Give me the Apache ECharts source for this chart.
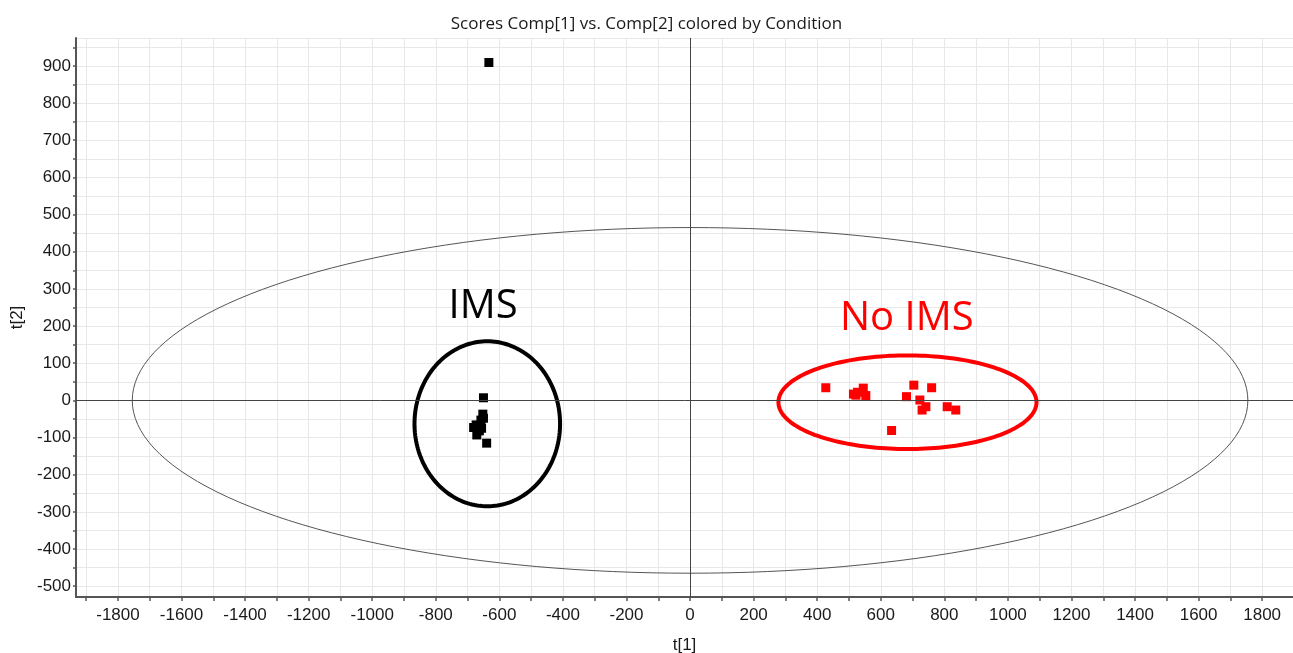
<!DOCTYPE html>
<html>
<head>
<meta charset="utf-8">
<script src="https://cdn.jsdelivr.net/npm/echarts@6/dist/echarts.min.js"></script>
<style>
html,body{margin:0;padding:0;background:#fff;}
#chart{width:1293px;height:653px;}
</style>
</head>
<body>
<div id="chart"></div>
<script>
// ---- data ----
var imsT1 = [-633, -650, -652, -650, -658, -656, -663, -673, -681, -671, -640];
var imsT2 = [909, 7, -37, -48, -53, -75, -82, -66, -73, -93, -115];

var noImsT1 = [427, 514, 522, 527, 545, 553, 634, 681, 704, 723, 730, 742, 760, 809, 836];
var noImsT2 = [34, 17, 14, 22, 33, 13, -81, 10, 41, 1, -26, -17, 34, -17, -26];

// ellipses: [centre t1, centre t2, half-width, half-height]
var hotellingEllipse = [0, 0, 1755, 465];
var imsEllipse = [-638, -63, 229, 222];
var noImsEllipse = [684, -5, 406, 126];

// annotation texts: [t1, t2]
var imsLabelPos = [-651, 251];
var noImsLabelPos = [682, 221];

var xTickLabels = [-1800, -1600, -1400, -1200, -1000, -800, -600, -400, -200, 0, 200, 400, 600, 800, 1000, 1200, 1400, 1600, 1800];
var yTickLabels = [-500, -400, -300, -200, -100, 0, 100, 200, 300, 400, 500, 600, 700, 800, 900];

function zip(a, b) { return a.map(function (v, i) { return [v, b[i]]; }); }

function ellipseSeries(params, color, width) {
  return {
    type: 'custom',
    silent: true,
    clip: true,
    z: 3,
    data: [params],
    renderItem: function (p, api) {
      var cx = api.value(0), cy = api.value(1), rx = api.value(2), ry = api.value(3);
      var pts = [];
      var n = 180;
      for (var i = 0; i < n; i++) {
        var t = 2 * Math.PI * i / n;
        pts.push(api.coord([cx + rx * Math.cos(t), cy + ry * Math.sin(t)]));
      }
      return {
        type: 'polygon',
        shape: { points: pts },
        style: { fill: 'none', stroke: color, lineWidth: width }
      };
    }
  };
}

function textSeries(pos, text, color) {
  return {
    type: 'custom',
    silent: true,
    z: 5,
    data: [pos],
    renderItem: function (p, api) {
      var c = api.coord([api.value(0), api.value(1)]);
      return {
        type: 'text',
        x: c[0], y: c[1],
        style: {
          text: text, fill: color, fontSize: 40,
          fontFamily: 'Open Sans', align: 'center', verticalAlign: 'middle'
        }
      };
    }
  };
}

var axisFont = 'Liberation Sans';
var chart = echarts.init(document.getElementById('chart'), null, { renderer: 'canvas' });
chart.setOption({
  animation: false,
  backgroundColor: '#fff',
  title: {
    text: 'Scores Comp[1] vs. Comp[2] colored by Condition',
    left: 'center', top: 11,
    textStyle: { fontFamily: 'Open Sans', fontSize: 17, fontWeight: 'normal', color: '#1a1a1a' }
  },
  grid: { left: 76, right: 0, top: 38, bottom: 56, containLabel: false, outerBoundsMode: 'none' },
  xAxis: {
    type: 'value',
    min: -1932, max: 1897,
    splitNumber: 38, minInterval: 100, maxInterval: 100,
    name: 't[1]', nameLocation: 'middle', nameGap: 40,
    nameTextStyle: { fontFamily: axisFont, fontSize: 17, color: '#1a1a1a' },
    axisLine: { onZero: false, lineStyle: { color: '#555', width: 2 } },
    axisTick: { length: 4, lineStyle: { color: '#555', width: 1.5 } },
    axisLabel: {
      showMinLabel: false, showMaxLabel: false,
      fontFamily: axisFont, fontSize: 17, color: '#1a1a1a', margin: 10,
      formatter: function (v) { return xTickLabels.indexOf(v) >= 0 ? String(v) : ''; }
    },
    splitLine: { show: true, lineStyle: { color: '#e8e8e8', width: 1 } }
  },
  yAxis: {
    type: 'value',
    min: -529, max: 975,
    splitNumber: 30, minInterval: 50, maxInterval: 50,
    name: 't[2]', nameLocation: 'middle', nameGap: 50,
    nameTextStyle: { fontFamily: axisFont, fontSize: 17, color: '#1a1a1a' },
    axisLine: { onZero: false, lineStyle: { color: '#555', width: 2 } },
    axisTick: { length: 3, lineStyle: { color: '#555', width: 1.5 } },
    axisLabel: {
      showMinLabel: false, showMaxLabel: false,
      fontFamily: axisFont, fontSize: 17, color: '#1a1a1a', margin: 5,
      formatter: function (v) { return yTickLabels.indexOf(v) >= 0 ? String(v) : ''; }
    },
    splitLine: { show: true, lineStyle: { color: '#e8e8e8', width: 1 } }
  },
  series: [
    {
      type: 'line', data: [], silent: true, z: 2,
      markLine: {
        silent: true, symbol: 'none', animation: false,
        label: { show: false },
        lineStyle: { color: '#444', width: 1, type: 'solid' },
        data: [{ xAxis: 0 }, { yAxis: 0 }]
      }
    },
    ellipseSeries(hotellingEllipse, '#555', 1),
    ellipseSeries(imsEllipse, '#000', 4),
    ellipseSeries(noImsEllipse, '#f00', 4),
    {
      name: 'IMS', type: 'scatter', symbol: 'rect', symbolSize: 9, z: 4,
      itemStyle: { color: '#000', opacity: 1 },
      data: zip(imsT1, imsT2)
    },
    {
      name: 'No IMS', type: 'scatter', symbol: 'rect', symbolSize: 9, z: 4,
      itemStyle: { color: '#f00', opacity: 1 },
      data: zip(noImsT1, noImsT2)
    },
    textSeries(imsLabelPos, 'IMS', '#000'),
    textSeries(noImsLabelPos, 'No IMS', '#f00')
  ]
});
</script>
</body>
</html>
